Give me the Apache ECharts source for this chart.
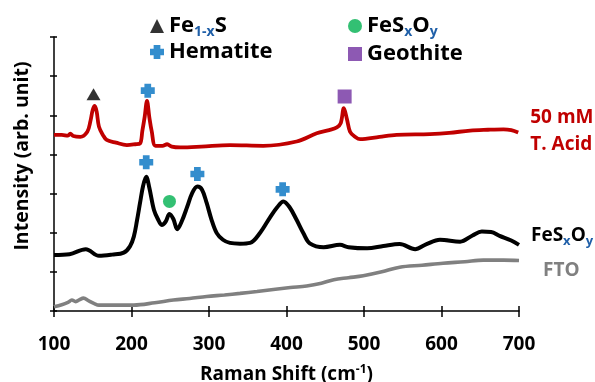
<!DOCTYPE html>
<html>
<head>
<meta charset="utf-8">
<script src="https://cdn.jsdelivr.net/npm/echarts@6/dist/echarts.min.js"></script>
<style>
  html, body { margin: 0; padding: 0; background: #fff; }
  #chart { width: 595px; height: 382px; }
</style>
</head>
<body>
<div id="chart"></div>
<script>
// Raman spectra, values
let acidShift = [100,110,118,121,125,134,143,147,150,152.6,155,158,163,168,180,194,205,211,214,217,220,223,226,231,240,246,252,263,290,327,370,413,439,455,465,470,474,478,482,488,495,520,542,585,610,637,660,680,690,699];
let acidIntensity = [4.50,4.50,4.48,4.53,4.47,4.45,4.58,4.85,5.14,5.24,5.10,4.71,4.50,4.37,4.30,4.24,4.26,4.28,4.60,4.96,5.37,4.95,4.60,4.22,4.22,4.26,4.20,4.18,4.20,4.24,4.22,4.33,4.54,4.62,4.69,4.80,5.18,4.90,4.58,4.46,4.39,4.45,4.50,4.52,4.55,4.61,4.63,4.64,4.62,4.56];

let fesoShift = [100,120,141,158,175,190,198,203,207,211,215,219,223,229,234,239,244,249,254,259,265,272,278,285,291,297,303,310,318,327,340,353,366,379,388,396,404,413,422,430,448,469,480,504,525,546,566,580,598,624,640,652,664,675,690,700];
let fesoIntensity = [1.43,1.45,1.58,1.41,1.44,1.49,1.65,1.90,2.30,2.76,3.20,3.43,3.15,2.58,2.35,2.20,2.28,2.48,2.35,2.09,2.30,2.67,3.00,3.18,3.10,2.76,2.35,1.99,1.82,1.74,1.72,1.74,2.00,2.40,2.65,2.80,2.65,2.33,1.98,1.73,1.63,1.69,1.63,1.60,1.66,1.71,1.58,1.70,1.82,1.77,1.93,2.03,2.02,1.92,1.80,1.69];

let ftoShift = [100,110,118,123,128,133,138,145,152,158,180,203,230,254,275,297,320,340,362,383,405,426,445,461,480,499,523,546,575,602,630,654,680,700];
let ftoIntensity = [0.11,0.16,0.22,0.28,0.24,0.29,0.33,0.26,0.19,0.15,0.15,0.15,0.21,0.28,0.32,0.37,0.41,0.45,0.50,0.55,0.60,0.64,0.71,0.80,0.85,0.90,1.00,1.12,1.17,1.22,1.26,1.30,1.30,1.29];

// peak markers [shift, intensity]
let fe1xsPeaks = [[151, 5.54]];
let hematitePeaks = [[221, 5.63], [219, 3.80], [285, 3.50], [395, 3.11]];
let fesxoyPeaks = [[249, 2.80]];
let geothitePeaks = [[475, 5.48]];

let xTicks = [100, 200, 300, 400, 500, 600, 700];

let pairs = function(xs, ys){
    let out = [];
    for (let i = 0; i < xs.length; i++) out.push([xs[i], ys[i]]);
    return out;
};

const FONT = 'Open Sans';
const crossPath = 'path://M2.6,0H7.4V2.6H10V7.4H7.4V10H2.6V7.4H0V2.6H2.6Z';
const subBlue = '#1f5fa8';

let legendRich = {
    a: {fontFamily: FONT, fontWeight: 'bold', fontSize: 22, color: '#000', lineHeight: 26},
    sub: {fontFamily: FONT, fontWeight: 'bold', fontSize: 14, color: subBlue, lineHeight: 14, padding: [12, 0, 0, 0]}
};
let legendFormat = function(name){
    if (name === 'Fe1-xS') return '{a|Fe}{sub|1-x}{a|S}';
    if (name === 'FeSxOy') return '{a|FeS}{sub|x}{a|O}{sub|y}';
    return '{a|' + name + '}';
};

let chart = echarts.init(document.getElementById('chart'), null, {renderer: 'canvas'});

let lineSeries = function(name, data, color, width, label, labelOpts){
    return {
        name: name, type: 'line', data: data, xAxisIndex: 0, yAxisIndex: 0,
        showSymbol: false, smooth: 0.35, silent: true,
        lineStyle: {color: color, width: width},
        endLabel: Object.assign({show: true, formatter: label}, labelOpts)
    };
};

let option = {
    animation: false,
    backgroundColor: '#fff',
    grid: {left: 54, right: 76, top: 37, bottom: 71, outerBoundsMode: 'none', containLabel: false},
    legend: [
        {
            data: ['Fe1-xS', 'Hematite'], orient: 'vertical', left: 145, top: 8,
            itemWidth: 14, itemHeight: 14, itemGap: 2, formatter: legendFormat,
            textStyle: {rich: legendRich}, selectedMode: false
        },
        {
            data: ['FeSxOy', 'Geothite'], orient: 'vertical', left: 343, top: 8,
            itemWidth: 14, itemHeight: 14, itemGap: 4, formatter: legendFormat,
            textStyle: {rich: legendRich}, selectedMode: false
        }
    ],
    xAxis: [
        {
            type: 'value', min: 100, max: 700, interval: 100, position: 'bottom',
            name: '{a|Raman Shift (cm}{sup|-1}{a|)}', nameLocation: 'middle', nameGap: 53,
            nameTextStyle: {rich: {
                a: {fontFamily: FONT, fontWeight: 'bold', fontSize: 19, color: '#000', lineHeight: 22},
                sup: {fontFamily: FONT, fontWeight: 'bold', fontSize: 12, color: '#000', lineHeight: 12, padding: [0, 0, 10, 0]}
            }},
            axisLine: {lineStyle: {color: '#000', width: 1.5}},
            axisTick: {inside: false, length: 6, lineStyle: {color: '#000', width: 1.5}},
            axisLabel: {
                margin: 24, fontFamily: FONT, fontWeight: 'bold', fontSize: 19, color: '#000',
                formatter: function(v){ return xTicks.indexOf(v) >= 0 ? String(v) : ''; }
            },
            splitLine: {show: false}
        },
        {
            type: 'value', min: 100, max: 700, interval: 100, position: 'bottom',
            axisLine: {show: false},
            axisTick: {inside: true, length: 5, lineStyle: {color: '#000', width: 1.5}},
            axisLabel: {show: false}, splitLine: {show: false}
        }
    ],
    yAxis: [
        {
            type: 'value', min: 0, max: 7, interval: 1,
            name: 'Intensity (arb. unit)', nameLocation: 'middle', nameGap: 22,
            nameTextStyle: {fontFamily: FONT, fontWeight: 'bold', fontSize: 19.5, color: '#000', padding: [0, 0, 0, 36]},
            axisLine: {show: true, lineStyle: {color: '#000', width: 1.5}},
            axisTick: {show: true, inside: false, length: 4, lineStyle: {color: '#000', width: 1.5}},
            axisLabel: {show: false}, splitLine: {show: false}
        },
        {
            type: 'value', min: 0, max: 7, interval: 1, position: 'left',
            axisLine: {show: false},
            axisTick: {show: true, inside: true, length: 3, lineStyle: {color: '#000', width: 1.5}},
            axisLabel: {show: false}, splitLine: {show: false}
        }
    ],
    series: [
        lineSeries('FTO', pairs(ftoShift, ftoIntensity), '#808080', 3.6, '{g|FTO}', {
            offset: [16, 10],
            rich: {g: {fontFamily: FONT, fontWeight: 'bold', fontSize: 19, color: '#808080'}}
        }),
        lineSeries('FeSxOy curve', pairs(fesoShift, fesoIntensity), '#000', 4, '{a|FeS}{s|x}{a|O}{s|y}', {
            offset: [4, -9],
            rich: {
                a: {fontFamily: FONT, fontWeight: 'bold', fontSize: 19, color: '#000', lineHeight: 24},
                s: {fontFamily: FONT, fontWeight: 'bold', fontSize: 13, color: subBlue, lineHeight: 13, padding: [11, 0, 0, 0]}
            }
        }),
        lineSeries('50 mM T. Acid', pairs(acidShift, acidIntensity), '#c00000', 3.8, '{r|50 mM}\n{r|T. Acid}', {
            offset: [4, -1],
            rich: {r: {fontFamily: FONT, fontWeight: 'bold', fontSize: 19, color: '#c00000', lineHeight: 27}}
        }),
        {name: 'Fe1-xS', type: 'scatter', data: fe1xsPeaks, symbol: 'triangle', symbolSize: [14, 12], itemStyle: {color: '#000'}, z: 5},
        {name: 'Hematite', type: 'scatter', data: hematitePeaks, symbol: crossPath, symbolSize: 14, itemStyle: {color: '#0070c0'}, z: 5},
        {name: 'FeSxOy', type: 'scatter', data: fesxoyPeaks, symbol: 'circle', symbolSize: 13, itemStyle: {color: '#00b050'}, z: 5},
        {name: 'Geothite', type: 'scatter', data: geothitePeaks, symbol: 'rect', symbolSize: 14, itemStyle: {color: '#7030a0'}, z: 5}
    ]
};

chart.setOption(option);
</script>
</body>
</html>
